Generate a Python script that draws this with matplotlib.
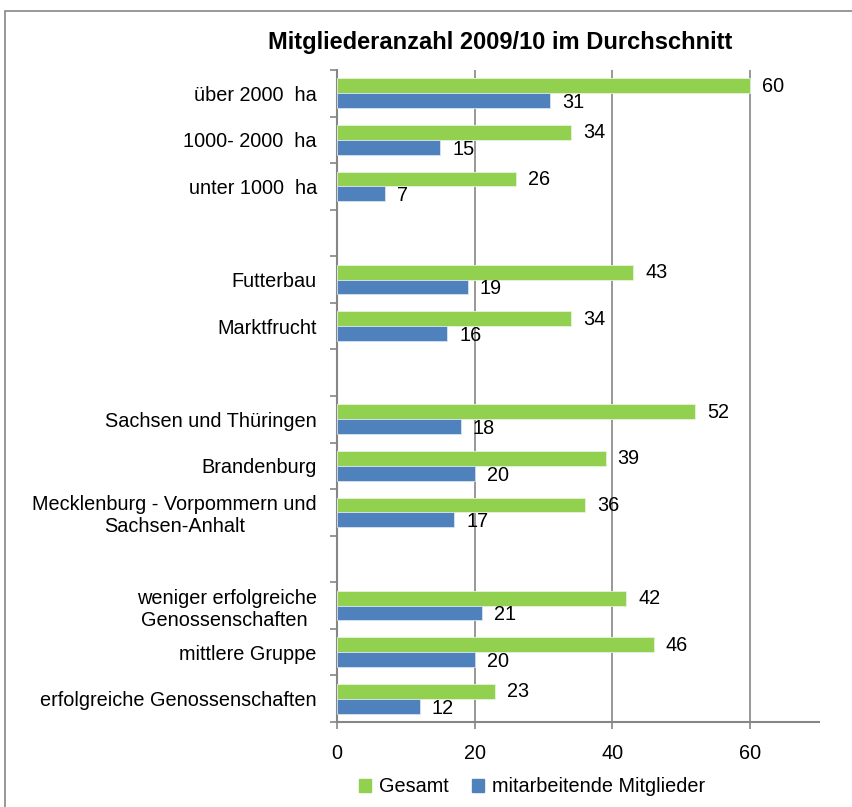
import matplotlib
matplotlib.use("Agg")
import matplotlib.pyplot as plt
from matplotlib.patches import Rectangle, Patch
import numpy as np

plt.rcParams['font.family'] = ['Liberation Sans', 'DejaVu Sans']

title = "Mitgliederanzahl 2009/10 im Durchschnitt"
categories = [
    "über 2000  ha", "1000- 2000  ha", "unter 1000  ha", None,
    "Futterbau", "Marktfrucht", None,
    "Sachsen und Thüringen", "Brandenburg",
    "Mecklenburg - Vorpommern und\nSachsen-Anhalt", None,
    "weniger erfolgreiche\nGenossenschaften ", "mittlere Gruppe", "erfolgreiche Genossenschaften",
]
gesamt = [60, 34, 26, None, 43, 34, None, 52, 39, 36, None, 42, 46, 23]
mitarbeitend = [31, 15, 7, None, 19, 16, None, 18, 20, 17, None, 21, 20, 12]
series_names = ["Gesamt", "mitarbeitende Mitglieder"]
xticks = [0, 20, 40, 60]

green = "#92D050"
blue = "#4F81BD"
FS = 14.3

fig = plt.figure(figsize=(8.52, 8.07), dpi=100)
ax = fig.add_axes([337/852, 1 - 722/807, (819 - 337)/852, (722 - 70)/807])

n = len(categories)
y = np.arange(n)
h = 0.32
for i in range(n):
    if gesamt[i] is None:
        continue
    ax.barh(y[i] - h/2, gesamt[i], height=h, color=green, edgecolor="#e6f2d9", linewidth=0.6, zorder=3)
    ax.barh(y[i] + h/2, mitarbeitend[i], height=h, color=blue, edgecolor="#d9e3f0", linewidth=0.6, zorder=3)
    ax.annotate(str(gesamt[i]), (gesamt[i], y[i] - h/2 + 0.01), xytext=(8.6, 0), textcoords="offset points",
                va="center", ha="left", fontsize=FS)
    ax.annotate(str(mitarbeitend[i]), (mitarbeitend[i], y[i] + h/2 + 0.04), xytext=(8.6, 0), textcoords="offset points",
                va="center", ha="left", fontsize=FS)

ax.set_ylim(n - 0.5, -0.5)
ax.set_xlim(0, 70)

# category labels
ax.set_yticks([i for i in range(n) if categories[i] is not None])
ax.set_yticklabels([c for c in categories if c is not None], fontsize=FS, multialignment="center")
ax.tick_params(axis="y", which="major", length=0, pad=14.5)
ax.set_yticks(np.arange(-0.5, n, 1), minor=True)
ax.tick_params(axis="y", which="minor", length=5, color="#868686", width=1.2)

ax.set_xticks(xticks)
ax.set_xticklabels([str(t) for t in xticks], fontsize=FS)
ax.tick_params(axis="x", length=5, color="#868686", width=1.2, pad=11)

ax.grid(axis="x", color="#868686", linewidth=1.2, zorder=0)
for s in ["top", "right"]:
    ax.spines[s].set_visible(False)
ax.spines["left"].set_color("#868686")
ax.spines["left"].set_linewidth(1.5)
ax.spines["bottom"].set_color("#868686")
ax.spines["bottom"].set_linewidth(1.5)

fig.text(500/852, 1 - 42/807, title, ha="center", va="center", fontsize=17, fontweight="bold")

handles = [Patch(color=green), Patch(color=blue)]
fig.legend(handles, series_names, loc="center", bbox_to_anchor=(532/852, 1 - 787/807), ncol=2,
           frameon=False, fontsize=FS, handlelength=0.6, handleheight=0.6, handletextpad=0.4, columnspacing=1.2)

fig.patches.append(Rectangle((5/852, -0.1), 1.2, 1.1 - 11/807, transform=fig.transFigure,
                             fill=False, edgecolor="#868686", linewidth=1.2))

fig.savefig("out.png", dpi=100)
